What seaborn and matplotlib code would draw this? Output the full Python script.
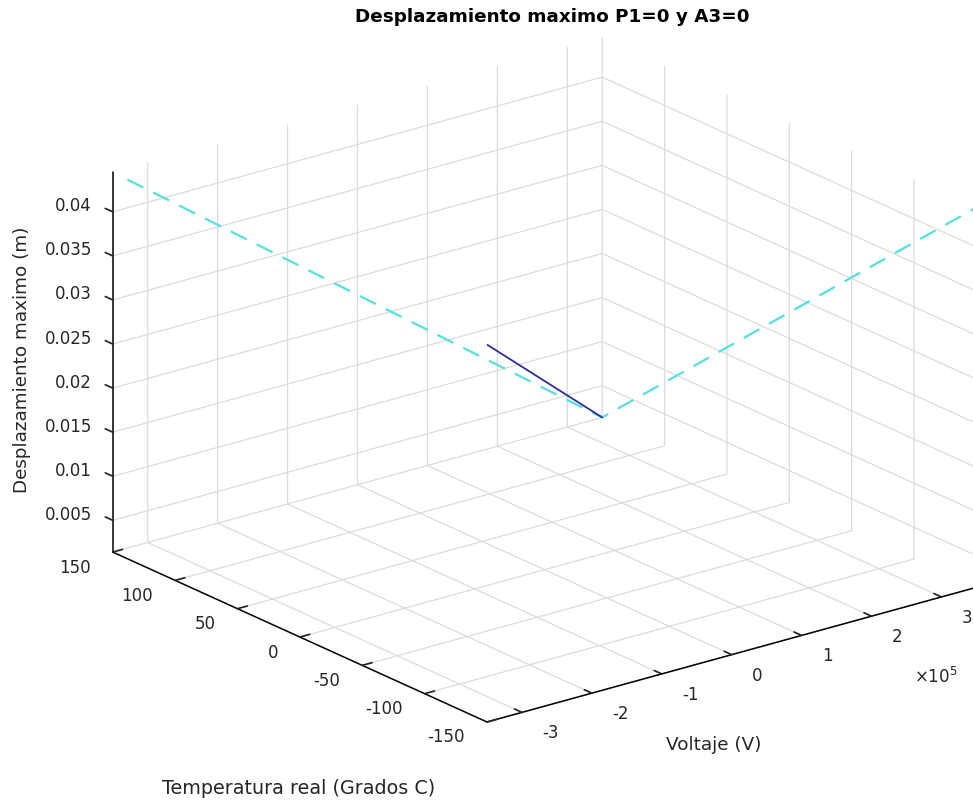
import numpy as np
import pandas as pd
import matplotlib
matplotlib.use("Agg")
import matplotlib.pyplot as plt
import seaborn as sns
from mpl_toolkits.mplot3d import proj3d

# ---------------- data ----------------
title = "Desplazamiento maximo P1=0 y A3=0"
x_label = "Voltaje (V)"
y_label = "Temperatura real (Grados C)"
z_label = "Desplazamiento maximo (m)"

x_ticks = [-3e5, -2e5, -1e5, 0, 1e5, 2e5, 3e5]
x_ticklabels = ["-3", "-2", "-1", "0", "1", "2", "3"]
y_ticks = [-150, -100, -50, 0, 50, 100, 150]
y_ticklabels = ["-150", "-100", "-50", "0", "50", "100", "150"]
z_ticks = [0.005, 0.01, 0.015, 0.02, 0.025, 0.03, 0.035, 0.04]
z_ticklabels = ["0.005", "0.01", "0.015", "0.02", "0.025", "0.03", "0.035", "0.04"]

x_lim = (-3.5e5, 3.5e5)
y_lim = (-150, 150)
z_lim = (0.0014, 0.0445)

# dashed cyan series
limit_voltage = [-3.29e5, 3.5e5, 3.5e5]
limit_temperature = [150, 150, -150]
limit_displacement = [0.0432, 0.0014, 0.0445]

# solid blue series
max_voltage = [1.86e5, 3.5e5]
max_temperature = [150, 150]
max_displacement = [0.0132, 0.0014]

# ---------------- style ----------------
sns.set_theme(style="white")
plt.rcParams["font.family"] = ["DejaVu Sans"]
plt.rcParams["axes.unicode_minus"] = False
plt.rcParams["mathtext.fontset"] = "dejavusans"

TXT = "#262626"
W, H = 973, 802
fig = plt.figure(figsize=(W / 100, H / 100), dpi=100)
fig.patch.set_facecolor("white")
ax = fig.add_axes([0.1, 0.1, 0.8, 0.8], projection="3d", proj_type="ortho")
ax.set_facecolor((1, 1, 1, 0))
ax.view_init(elev=20.7, azim=-127.9)
ax.set_box_aspect((620, 609, 406))

ax.plot(limit_voltage, limit_temperature, limit_displacement,
        color="#55e0e0", linestyle=(0, (8, 5)), linewidth=1.6)
ax.plot(max_voltage, max_temperature, max_displacement,
        color="#2f2f95", linewidth=1.3)

ax.set_xlim(*x_lim)
ax.set_ylim(*y_lim)
ax.set_zlim(*z_lim)
ax.set_xticks(x_ticks)
ax.set_yticks(y_ticks)
ax.set_zticks(z_ticks)
ax.set_xticklabels([])
ax.set_yticklabels([])
ax.set_zticklabels([])

for axis in (ax.xaxis, ax.yaxis, ax.zaxis):
    axis.set_pane_color((1, 1, 1, 0))
    axis.pane.set_edgecolor((1, 1, 1, 0))
    axis.line.set_color("black")
    axis.line.set_linewidth(1.1)
    axis._axinfo["grid"].update(color=(0.86, 0.86, 0.86, 1), linewidth=0.9)
    axis._axinfo["tick"].update(inward_factor=0.0, outward_factor=0.25)
# MATLAB draws the z tick marks along the y direction
try:
    ax.zaxis._get_tickdir = lambda pos=None: 1
except Exception:
    pass
ax.grid(True)
ax.set_xlabel("")
ax.set_ylabel("")
ax.set_zlabel("")

# ------------- place the 3D box to match the reference layout -------------
def to_disp(x, y, z):
    xs, ys, _ = proj3d.proj_transform(x, y, z, ax.get_proj())
    return np.array(ax.transData.transform((xs, ys)))

fig.canvas.draw()
p1 = to_disp(x_lim[0], y_lim[0], z_lim[0])
p2 = to_disp(x_lim[0], y_lim[1], z_lim[1])
bb = ax.get_position().transformed(fig.transFigure)
C = np.array([bb.x0 + bb.width / 2, bb.y0 + bb.height / 2])
L = bb.width
u1 = (p1 - C) / L
u2 = (p2 - C) / L
t1 = np.array([487, H - 722])
t2 = np.array([113, H - 172])
L2 = np.linalg.norm(t1 - t2) / np.linalg.norm(u1 - u2)
C2 = t1 - L2 * u1
ax.set_position([(C2[0] - L2 / 2) / W, (C2[1] - L2 / 2) / H, L2 / W, L2 / H])
fig.canvas.draw()

# ------------- tick labels (MATLAB style placement) -------------
tick_fs = 12
def put(p, dx, dy, s, ha):
    fig.text((p[0] + dx) / W, (p[1] - dy) / H, s, ha=ha, va="center",
             fontsize=tick_fs, color=TXT)

for v, s in zip(x_ticks, x_ticklabels):
    put(to_disp(v, y_lim[0], z_lim[0]), 20.5, 21, s, "left")
for v, s in zip(y_ticks, y_ticklabels):
    put(to_disp(x_lim[0], v, z_lim[0]), -22, 15.5, s, "right")
for v, s in zip(z_ticks, z_ticklabels):
    put(to_disp(x_lim[0], y_lim[1], v), -21, -5.5, s, "right")

# labels
lab_fs = 13.2
fig.text(714 / W, 1 - 745 / H, x_label, ha="center", va="center", fontsize=lab_fs, color=TXT)
fig.text(299 / W, 1 - 789 / H, y_label, ha="center", va="center", fontsize=13.8, color=TXT)
fig.text(22 / W, 1 - 360 / H, z_label, ha="center", va="center", rotation=90, fontsize=lab_fs, color=TXT)
fig.text(936 / W, 1 - 677 / H, r"$\times10^{5}$", ha="center", va="center", fontsize=12, color=TXT)
fig.text(552 / W, 1 - 17 / H, title, ha="center", va="center", fontsize=13.2, fontweight="bold", color="black")

fig.savefig("out.png", dpi=100, facecolor="white")
